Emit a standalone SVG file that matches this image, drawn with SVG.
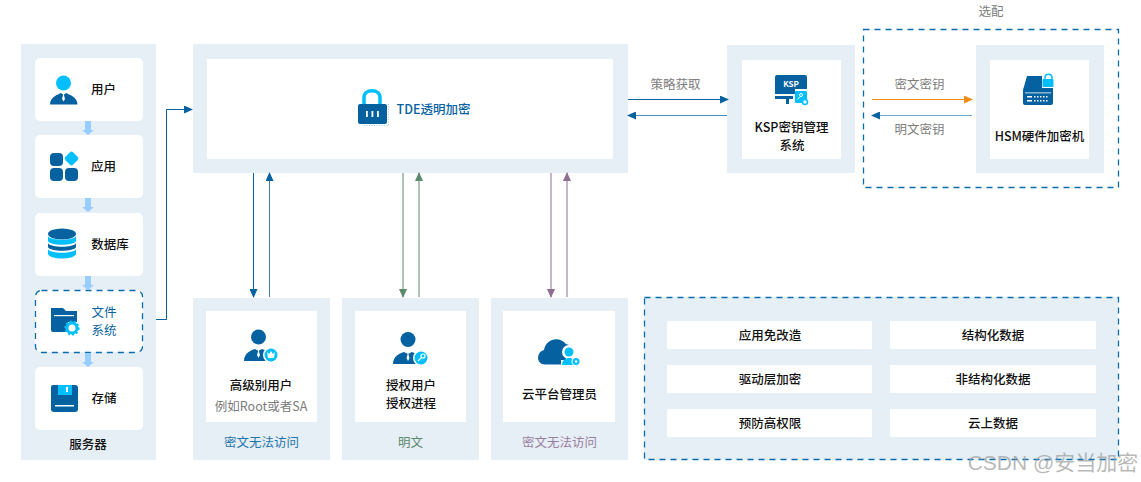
<svg xmlns="http://www.w3.org/2000/svg" width="1141" height="482" viewBox="0 0 1141 482">
<style>
text{font-family:"Noto Sans CJK SC","Noto Sans",sans-serif;font-size:12.5px;text-anchor:middle}
.p{fill:#e6eef6}
.w{fill:#fff}
.t{fill:#111;font-weight:500}
.g{fill:#7d7d7d}
.d{fill:#05619f}
.c{fill:#00bfff}
.dash{fill:none;stroke:#0a6db0;stroke-width:1.3;stroke-dasharray:6 5}
.ln{fill:none;stroke-width:1}
</style>
<defs>
<marker id="mb" markerWidth="9" markerHeight="8" refX="8" refY="4" orient="auto" markerUnits="userSpaceOnUse"><path d="M0 0L9 4L0 8Z" fill="#05619f"/></marker>
<marker id="mg" markerWidth="9" markerHeight="8" refX="8" refY="4" orient="auto" markerUnits="userSpaceOnUse"><path d="M0 0L9 4L0 8Z" fill="#5c8a6c"/></marker>
<marker id="mp" markerWidth="9" markerHeight="8" refX="8" refY="4" orient="auto" markerUnits="userSpaceOnUse"><path d="M0 0L9 4L0 8Z" fill="#8f6f91"/></marker>
<marker id="mo" markerWidth="9" markerHeight="8" refX="8" refY="4" orient="auto" markerUnits="userSpaceOnUse"><path d="M0 0L9 4L0 8Z" fill="#f28c1c"/></marker>
<path id="flow" d="M-3 0H3V9H6L0 14L-6 9H-3Z" fill="#99ccff"/>
</defs>

<g id="server">
<rect class="p" x="21" y="44" width="135" height="416"/>
<rect class="w" x="35" y="58" width="108" height="63" rx="5"/>
<rect class="w" x="35" y="135" width="108" height="63" rx="5"/>
<rect class="w" x="35" y="213" width="108" height="63" rx="5"/>
<rect class="w" x="35" y="290" width="108" height="62" rx="6"/>
<rect class="dash" x="35.500" y="290.500" width="107" height="62" rx="6"/>
<rect class="w" x="35" y="367" width="108" height="63" rx="5"/>
<use href="#flow" x="88" y="121"/>
<use href="#flow" x="88" y="198"/>
<use href="#flow" x="88" y="276"/>
<use href="#flow" x="88" y="353"/>
<text class="t" x="103.500" y="94">用户</text>
<text class="t" x="103.500" y="171">应用</text>
<text class="t" x="110" y="249">数据库</text>
<text x="104" y="317" fill="#05619f">文件</text>
<text x="104" y="335" fill="#05619f">系统</text>
<text class="t" x="104" y="403">存储</text>
<text class="t" x="88" y="449">服务器</text>
<!-- user icon -->
<circle class="c" cx="63.500" cy="83" r="7.500"/>
<path class="d" d="M50 104.500C50 97 58 94.500 61 93L63.500 95L66 93C69 94.500 77.500 97 77.500 104.500Z"/>
<path d="M63.500 93.500L65 99L63.500 101.500L62 99Z" fill="#fff"/>
<!-- app icon -->
<rect class="d" x="50" y="153" width="13" height="13" rx="4"/>
<rect class="d" x="50" y="168" width="13" height="13" rx="4"/>
<rect class="d" x="65" y="168" width="13" height="13" rx="4"/>
<rect class="c" x="66" y="153" width="11" height="11" rx="2.500" transform="rotate(45 71.500 158.500)"/>
<!-- database icon -->
<ellipse class="d" cx="62" cy="234" rx="14" ry="5.500"/>
<path class="c" d="M48 236C50 241 74 241 76 236V241C74 246 50 246 48 241Z"/>
<path class="d" d="M48 243C50 248 74 248 76 243V247C74 252 50 252 48 247Z"/>
<path class="c" d="M48 249C50 254 74 254 76 249V254C74 260 50 260 48 254Z"/>
<!-- folder icon -->
<path class="d" d="M51 308H63L66 311H77V322H68V332H53Q51 332 51 330Z"/>
<rect x="54" y="315" width="20" height="1.200" fill="#fff"/>
<circle cx="72" cy="328" r="5" fill="none" stroke="#00bfff" stroke-width="3"/>
<circle cx="72" cy="328" r="6.800" fill="none" stroke="#00bfff" stroke-width="1.600" stroke-dasharray="2.200 2"/>
<!-- storage icon -->
<path class="d" d="M53 385H75Q78 385 78 388V409Q78 412 75 412H54Q51 412 51 409V387Q51 385 53 385Z"/>
<rect class="c" x="58" y="385" width="14" height="10"/>
<rect x="66" y="387" width="2" height="5" fill="#fff"/>
<rect x="55" y="405" width="19" height="1.500" fill="#fff"/>
</g>

<g id="tde">
<rect class="p" x="193" y="44" width="435" height="129"/>
<rect class="w" x="207" y="59" width="406" height="100"/>
<path d="M364 104V97.500C364 88.500 380 88.500 380 97.500V104" fill="none" stroke="#00bfff" stroke-width="3.500"/>
<rect class="d" x="358" y="104" width="29" height="20" rx="2"/>
<rect x="366" y="111" width="1.800" height="6" fill="#fff"/>
<rect x="371.500" y="111" width="1.800" height="6" fill="#fff"/>
<rect x="377" y="111" width="1.800" height="6" fill="#fff"/>
<path d="M388.500 104V125.500H364" fill="none" stroke="#99ccff" stroke-width="1" stroke-dasharray="1 1.500"/>
<text x="433.500" y="114" fill="#05619f" font-weight="500" style="font-size:12.500px">TDE透明加密</text>
</g>

<g id="ksp">
<rect class="p" x="727" y="45" width="128" height="128"/>
<rect class="w" x="742" y="60" width="99" height="99"/>
<path class="d" d="M777 75H805Q807 75 807 77V89H795V94H775V77Q775 75 777 75Z"/>
<rect class="d" x="775" y="96" width="18" height="3"/>
<rect class="d" x="786" y="99" width="3" height="5"/>
<rect class="c" x="795" y="91" width="12" height="12" rx="1"/>
<circle cx="801" cy="95" r="1.500" fill="none" stroke="#fff"/>
<path d="M800 96.500L797.500 99.500" stroke="#fff"/>
<circle cx="805" cy="102" r="2.500" fill="#fff" stroke="#00bfff" stroke-width="1.500"/>
<text x="791" y="86.500" fill="#fff" font-weight="700" style="font-size:8px">KSP</text>
<text class="t" x="791.500" y="132">KSP密钥管理</text>
<text class="t" x="792" y="150">系统</text>
</g>

<g id="hsm-optional">
<rect class="dash" x="863.500" y="29.500" width="255" height="158"/>
<text class="g" x="991" y="16">选配</text>
</g>
<g id="hsm">
<rect class="p" x="976" y="45" width="128" height="128"/>
<rect class="w" x="990" y="60" width="99" height="99"/>
<path class="d" d="M1027 76H1042V88H1053V103Q1053 105 1051 105H1025Q1023 105 1023 103V90Z"/>
<path d="M1045 80V77.500C1045 73 1052 73 1052 77.500V80" fill="none" stroke="#00bfff" stroke-width="1.500"/>
<rect class="c" x="1042.500" y="79" width="11" height="8" rx="1"/>
<path d="M1027 96h5v1.500h-5zM1034 96h1.500v1.500h-1.500zM1037 96h1.500v1.500h-1.500zM1040 96h1.500v1.500h-1.500zM1043 96h1.500v1.500h-1.500zM1046 96h1.500v1.500h-1.500zM1027 100h5v1.500h-5zM1034 100h1.500v1.500h-1.500zM1037 100h1.500v1.500h-1.500zM1040 100h1.500v1.500h-1.500zM1043 100h1.500v1.500h-1.500zM1046 100h1.500v1.500h-1.500z" fill="#fff"/>
<rect x="1025" y="92.500" width="26" height="0.800" fill="#fff"/>
<text class="t" x="1039.500" y="141">HSM硬件加密机</text>
</g>

<g id="user-senior">
<rect class="p" x="193" y="298" width="137" height="162"/>
<rect class="w" x="206" y="311" width="111" height="111"/>
<circle class="d" cx="258.500" cy="337" r="7.500"/>
<path class="d" d="M244 361C244 353 251 350 255 349L258.500 351L262 349C265 350 269 352 270 355V361Z"/>
<path d="M258.500 350L260 355L258.500 358L257 355Z" fill="#fff"/>
<circle cx="271" cy="355" r="8" fill="#fff"/><circle class="c" cx="271" cy="355" r="6.500"/>
<path d="M267 352L269 354L271 351L273 354L275 352L274 358H268Z" fill="#fff"/>
<text class="t" x="261" y="390">高级别用户</text>
<text class="g" x="261" y="411">例如Root或者SA</text>
<text x="261.500" y="447" fill="#1d75ab">密文无法访问</text>
</g>

<g id="user-auth">
<rect class="p" x="342" y="298" width="137" height="162"/>
<rect class="w" x="355" y="311" width="111" height="111"/>
<circle class="d" cx="408" cy="339.500" r="7.500"/>
<path class="d" d="M393 364C393 356 400 353 404 352L408 354L412 352C415 353 419 355 420 358V364Z"/>
<path d="M408 353L409.500 358L408 361L406.500 358Z" fill="#fff"/>
<circle cx="421" cy="358" r="8" fill="#fff"/><circle class="c" cx="421" cy="358" r="6.500"/>
<circle cx="423" cy="356" r="2" fill="none" stroke="#fff" stroke-width="1.200"/><path d="M421.500 357.500L418 361" stroke="#fff" stroke-width="1.200"/>
<text class="t" x="411" y="390">授权用户</text>
<text class="t" x="411" y="408">授权进程</text>
<text x="410.500" y="447" fill="#5c8a6c">明文</text>
</g>

<g id="user-cloud">
<rect class="p" x="491" y="298" width="137" height="162"/>
<rect class="w" x="503" y="311" width="112" height="111"/>
<path class="d" d="M545 364.500C536 364.500 536 352 544 350C546 338 560 336 566 344L569 345L566 351V364.500Z"/>
<circle cx="569" cy="352" r="7" fill="#fff"/>
<path d="M561 365H574V360H561Z" fill="#fff"/>
<circle class="c" cx="569" cy="352" r="4.500"/>
<path class="c" d="M562 365C562 360 566 358 569 358C572 358 575 359 576 365Z"/>
<circle cx="576" cy="361.500" r="4.500" fill="#fff"/>
<circle class="c" cx="576" cy="361.500" r="3.500"/><circle cx="576" cy="361.500" r="1.300" fill="#fff"/>
<text class="t" x="559.500" y="399">云平台管理员</text>
<text x="559.500" y="447" fill="#997d9e">密文无法访问</text>
</g>

<g id="features">
<rect class="p" x="644" y="297" width="474" height="163"/>
<rect class="dash" x="644.500" y="297.500" width="474" height="162"/>
<rect class="w" x="667" y="321" width="205" height="28"/>
<rect class="w" x="890" y="321" width="206" height="28"/>
<rect class="w" x="667" y="365" width="205" height="28"/>
<rect class="w" x="890" y="365" width="206" height="28"/>
<rect class="w" x="667" y="409" width="205" height="28"/>
<rect class="w" x="890" y="409" width="206" height="28"/>
<text class="t" x="770" y="339.500">应用免改造</text>
<text class="t" x="993" y="339.500">结构化数据</text>
<text class="t" x="770" y="384">驱动层加密</text>
<text class="t" x="993" y="384">非结构化数据</text>
<text class="t" x="770" y="428">预防高权限</text>
<text class="t" x="993" y="428">云上数据</text>
</g>

<g id="connectors">
<path class="ln" d="M156 319.500H166.500V109.500H192" stroke="#05619f" marker-end="url(#mb)"/>
<path class="ln" d="M628 99.500H728" stroke="#05619f" marker-end="url(#mb)"/>
<path class="ln" d="M727 115.500H628" stroke="#4a8fc0" marker-end="url(#mb)"/>
<path class="ln" d="M872 99.500H972" stroke="#f28c1c" marker-end="url(#mo)"/>
<path class="ln" d="M972 115.500H872" stroke="#6fa4cc" stroke-width="1.500" marker-end="url(#mb)"/>
<path class="ln" d="M253.500 173V297" stroke="#05619f" marker-end="url(#mb)"/>
<path class="ln" d="M269.500 297V173" stroke="#4a7fa5" marker-end="url(#mb)"/>
<path class="ln" d="M403 173V297" stroke="#5c8a6c" marker-end="url(#mg)"/>
<path class="ln" d="M419 297V173" stroke="#5c8a6c" marker-end="url(#mg)"/>
<path class="ln" d="M551 173V297" stroke="#8f6f91" marker-end="url(#mp)"/>
<path class="ln" d="M567 297V173" stroke="#8f6f91" marker-end="url(#mp)"/>
</g>

<g id="edge-labels">
<text class="g" x="675.500" y="89">策略获取</text>
<text class="g" x="919.500" y="89">密文密钥</text>
<text class="g" x="919.500" y="134">明文密钥</text>
</g>

<text x="1053" y="470" fill="#9a9a9a" fill-opacity=".7" style="font-size:21px;font-family:'Liberation Sans','Noto Sans CJK SC',sans-serif">CSDN @安当加密</text>
</svg>
